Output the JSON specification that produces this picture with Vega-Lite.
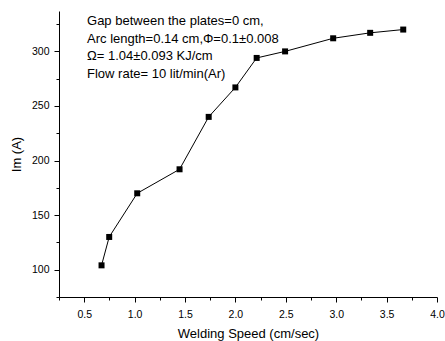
{
  "$schema": "https://vega.github.io/schema/vega-lite/v6.json",
  "width": 378,
  "height": 286,
  "autosize": {"type": "none"},
  "padding": {"left": 59, "top": 11, "right": 8, "bottom": 44},
  "background": "white",
  "config": {
    "view": {"stroke": null},
    "font": "Liberation Sans",
    "axis": {
      "grid": false,
      "domainColor": "black",
      "domainWidth": 1,
      "tickColor": "black",
      "tickWidth": 1,
      "labelColor": "black",
      "titleColor": "black",
      "labelFont": "Liberation Sans",
      "titleFont": "Liberation Sans",
      "labelFontSize": 10.5,
      "titleFontSize": 13,
      "titleFontWeight": "normal"
    }
  },
  "data": {
    "values": [
      {"speed": 0.672, "im": 104},
      {"speed": 0.748, "im": 130},
      {"speed": 1.026, "im": 170},
      {"speed": 1.446, "im": 192},
      {"speed": 1.735, "im": 240},
      {"speed": 2.0, "im": 267},
      {"speed": 2.211, "im": 294},
      {"speed": 2.493, "im": 300},
      {"speed": 2.97, "im": 312},
      {"speed": 3.337, "im": 317},
      {"speed": 3.665, "im": 320}
    ]
  },
  "encoding": {
    "x": {
      "field": "speed",
      "type": "quantitative",
      "scale": {"domain": [0.25, 4.0], "nice": false, "zero": false},
      "axis": {
        "title": "Welding Speed (cm/sec)",
        "values": [0.25, 0.5, 0.75, 1.0, 1.25, 1.5, 1.75, 2.0, 2.25, 2.5, 2.75, 3.0, 3.25, 3.5, 3.75, 4.0],
        "labelExpr": "datum.value % 0.5 ? '' : format(datum.value, '.1f')",
        "tickSize": {"condition": {"test": "datum.value % 0.5", "value": 3}, "value": 5},
        "labelPadding": 7,
        "titlePadding": 8,
        "labelFlush": false,
        "labelOverlap": false
      }
    },
    "y": {
      "field": "im",
      "type": "quantitative",
      "scale": {"domain": [75, 337], "nice": false, "zero": false},
      "axis": {
        "title": "Im (A)",
        "values": [75, 100, 125, 150, 175, 200, 225, 250, 275, 300, 325],
        "labelExpr": "datum.value % 50 ? '' : format(datum.value, 'd')",
        "tickSize": {"condition": {"test": "datum.value % 50", "value": 3}, "value": 5},
        "labelPadding": 5,
        "titlePadding": 8,
        "labelFlush": false,
        "labelOverlap": false
      }
    }
  },
  "layer": [
    {"mark": {"type": "line", "color": "black", "strokeWidth": 1}},
    {"mark": {"type": "point", "shape": "square", "filled": true, "color": "black", "size": 36, "opacity": 1}},
    {
      "transform": [{"filter": "datum.speed == 2"}],
      "mark": {
        "type": "text",
        "text": ["Gap between the plates=0 cm,", "Arc length=0.14 cm,Φ=0.1±0.008", "Ω= 1.04±0.093 KJ/cm", "Flow rate= 10 lit/min(Ar)"],
        "align": "left",
        "baseline": "alphabetic",
        "fontSize": 13,
        "fontWeight": "normal",
        "lineHeight": 17.6,
        "fill": "black",
        "font": "Liberation Sans"
      },
      "encoding": {
        "x": {"datum": 0.528},
        "y": {"datum": 324}
      }
    }
  ]
}
